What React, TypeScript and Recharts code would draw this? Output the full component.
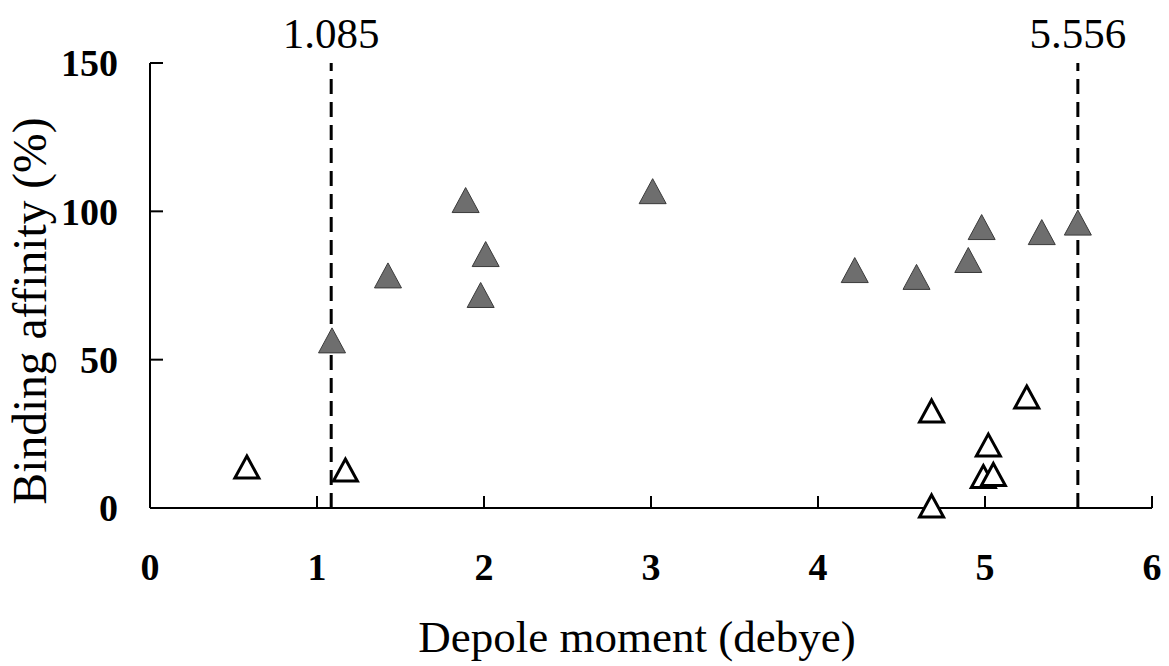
import React from "react";
import { ScatterChart, Scatter, XAxis, YAxis, ReferenceLine, Label } from "recharts";

// filled triangles (high affinity group)
const filledX = [1.09, 1.425, 1.89, 2.01, 1.98, 3.01, 4.22, 4.59, 4.9, 4.98, 5.34, 5.556];
const filledY = [56.5, 78.4, 103.8, 85.6, 71.8, 106.8, 80.2, 77.9, 83.6, 94.7, 93.0, 96.2];

// open triangles (low affinity group)
const openX = [0.58, 1.17, 4.68, 5.25, 5.02, 4.99, 5.05, 4.68];
const openY = [13.8, 12.8, 32.7, 37.4, 21.2, 10.6, 11.3, 0.7];

const xTicks = [0, 1, 2, 3, 4, 5, 6];
const yTicks = [0, 50, 100, 150];
const cutoffs = [1.085, 5.556];

const filledData = filledX.map((x, i) => ({ x, y: filledY[i] }));
const openData = openX.map((x, i) => ({ x, y: openY[i] }));

const SERIF = "'Liberation Serif', 'Times New Roman', serif";

const FilledTriangle = (props: any) => {
    const { cx, cy } = props;
    const w = 13.5;
    const h = 12.5;
    return (
        <polygon
            points={`${cx},${cy - h} ${cx + w},${cy + h} ${cx - w},${cy + h}`}
            fill="#6e6e6e"
            stroke="#3a3a3a"
            strokeWidth={1}
        />
    );
};

const OpenTriangle = (props: any) => {
    const { cx, cy } = props;
    const w = 12;
    const h = 11;
    return (
        <polygon
            points={`${cx},${cy - h} ${cx + w},${cy + h} ${cx - w},${cy + h}`}
            fill="#fff"
            stroke="#000"
            strokeWidth={3}
            strokeLinejoin="miter"
        />
    );
};

export default function App() {
    return (
        <div style={{ position: "absolute", left: 0, top: 0, background: "#fff" }}>
            <ScatterChart width={1169} height={666} margin={{ top: 63, right: 17, bottom: 0, left: 0 }}>
                <XAxis
                    type="number"
                    dataKey="x"
                    domain={[0, 6]}
                    ticks={xTicks}
                    height={158}
                    axisLine={{ stroke: "#000", strokeWidth: 2 }}
                    tickLine={{ stroke: "#000", strokeWidth: 2 }}
                    tickSize={-12}
                    tickMargin={57}
                    tick={{ fill: "#000", fontSize: 38, fontWeight: "bold", fontFamily: SERIF }}
                >
                    <Label
                        content={() => (
                            <text x={637} y={652} textAnchor="middle" fontSize={45} fontFamily={SERIF} fill="#000">
                                Depole moment (debye)
                            </text>
                        )}
                    />
                </XAxis>
                <YAxis
                    type="number"
                    dataKey="y"
                    domain={[0, 150]}
                    ticks={yTicks}
                    width={150}
                    axisLine={{ stroke: "#000", strokeWidth: 2 }}
                    tickLine={{ stroke: "#000", strokeWidth: 2 }}
                    tickSize={-13}
                    tickMargin={45}
                    tick={{ fill: "#000", fontSize: 38, fontWeight: "bold", fontFamily: SERIF }}
                >
                    <Label
                        content={() => (
                            <text
                                x={46}
                                y={311}
                                transform="rotate(-90 46 311)"
                                textAnchor="middle"
                                fontSize={47.5}
                                fontFamily={SERIF}
                                fill="#000"
                            >
                                Binding affinity (%)
                            </text>
                        )}
                    />
                </YAxis>
                {cutoffs.map((c) => (
                    <ReferenceLine
                        key={c}
                        x={c}
                        stroke="#000"
                        strokeWidth={3}
                        strokeDasharray="15 8"
                        label={{
                            value: c.toFixed(3),
                            position: "top",
                            offset: 15,
                            fontSize: 43,
                            fontFamily: SERIF,
                            fill: "#000",
                        }}
                    />
                ))}
                <Scatter data={filledData} shape={FilledTriangle} isAnimationActive={false} />
                <Scatter data={openData} shape={OpenTriangle} isAnimationActive={false} />
            </ScatterChart>
        </div>
    );
}
